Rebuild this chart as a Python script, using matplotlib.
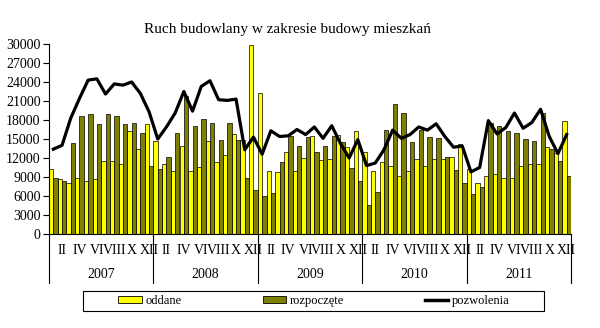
import matplotlib.pyplot as plt
import matplotlib.transforms as mtransforms
from matplotlib.patches import Patch, Rectangle
from matplotlib.lines import Line2D
import numpy as np

plt.rcParams['font.family'] = ['Liberation Serif', 'DejaVu Serif']

years = ['2007', '2008', '2009', '2010', '2011']
month_labels = ['II', 'IV', 'VI', 'VIII', 'X', 'XII']

# mieszkania oddane (2007-2011, miesięcznie)
oddane = [10200, 8700, 8000, 8900, 8400, 8700, 11600, 11600, 11100, 16200, 13500, 17300,
          14700, 11000, 9900, 13900, 9900, 10600, 14700, 11300, 12400, 15800, 14800, 29900,
          22300, 9900, 9800, 12900, 10000, 12000, 15500, 11700, 11800, 15700, 13700, 16200,
          12900, 9900, 11400, 10800, 9100, 10000, 11800, 10700, 11800, 11800, 12200, 14200,
          10200, 8000, 9200, 9500, 8800, 8800, 10700, 11000, 11000, 13700, 12800, 17800]
# mieszkania rozpoczęte
rozpoczete = [8900, 8300, 14300, 18700, 19000, 17300, 19000, 18700, 17400, 17600, 16000, 10700,
              10200, 12200, 16000, 21800, 17000, 18100, 17600, 14800, 17600, 14900, 8900, 6900,
              6000, 6400, 11400, 15500, 13900, 15300, 12900, 13900, 15500, 14500, 10400, 8400,
              4600, 6600, 16400, 20500, 19100, 14500, 16500, 15300, 15100, 12200, 10100, 8000,
              6300, 7500, 17500, 17000, 16300, 16000, 15000, 14700, 19100, 13400, 11600, 9200]
# pozwolenia na budowę
pozwolenia = [13400, 14000, 18300, 21400, 24300, 24500, 22100, 23700, 23500, 24000, 22200, 19300,
              15000, 16900, 19100, 22500, 19400, 23300, 24200, 21200, 21100, 21300, 13300, 15300,
              12600, 16300, 15400, 15500, 16500, 15700, 16900, 15100, 17100, 14300, 12000, 14900,
              10800, 11200, 13300, 16400, 15100, 15700, 16900, 16400, 17400, 15400, 13700, 13900,
              9800, 10500, 17900, 15800, 16800, 19100, 16700, 17600, 19700, 15400, 12700, 15700]

W, H = 600, 328
fig = plt.figure(figsize=(6, 3.28), dpi=100)
ax = fig.add_axes([49 / W, 1 - 234 / H, 522 / W, 190 / H])

x = np.arange(len(oddane))
ax.bar(x - 0.25, oddane, width=0.5, color='#FFFF00', edgecolor='black', linewidth=0.5, zorder=2)
ax.bar(x + 0.25, rozpoczete, width=0.5, color='#808000', edgecolor='black', linewidth=0.5, zorder=2)
ax.plot(x, pozwolenia, color='black', linewidth=2.3, zorder=3)

ax.set_xlim(-0.5, len(x) - 0.5)
ax.set_ylim(0, 30000)
ax.set_yticks(np.arange(0, 30001, 3000))
ax.tick_params(axis='y', labelsize=10, length=4, width=0.8, direction='out', pad=2)
ax.set_xticks([])
for s in ['top', 'right']:
    ax.spines[s].set_visible(False)
ax.spines['left'].set_linewidth(0.8)
ax.spines['bottom'].set_linewidth(0.8)

# osie kategorii: miesiące i lata
trans = mtransforms.blended_transform_factory(ax.transData, ax.transAxes)
for k in range(len(years) + 1):
    ax.plot([12 * k - 0.5, 12 * k - 0.5], [0, -(283 - 234) / 190], color='black', linewidth=0.8,
            transform=trans, clip_on=False)
for k, yr in enumerate(years):
    ax.text(12 * k + 5.5, -(274 - 234) / 190, yr, transform=trans, ha='center', va='center',
            fontsize=10)
    for j, m in enumerate(month_labels):
        ax.text(12 * k + 1 + 2 * j, -(251 - 234) / 190, m, transform=trans, ha='center',
                va='center', fontsize=10)

fig.text(287.5 / W, 1 - 30 / H, 'Ruch budowlany w zakresie budowy mieszkań', fontsize=11,
         ha='center', va='center')

handles = [Patch(facecolor='#FFFF00', edgecolor='black', linewidth=0.6),
           Patch(facecolor='#808000', edgecolor='black', linewidth=0.6),
           Line2D([0], [0], color='black', linewidth=2.5)]
leg = fig.legend(handles, ['oddane', 'rozpoczęte', 'pozwolenia'], ncol=3, loc='center',
                 bbox_to_anchor=(314 / W, 1 - 301 / H), fontsize=9, frameon=False,
                 handlelength=1.85, handleheight=0.45, handletextpad=0.3, columnspacing=6.5,
                 borderpad=0.0)
fig.add_artist(Rectangle((83 / W, 1 - 311 / H), 461 / W, 20 / H, transform=fig.transFigure,
                         facecolor='none', edgecolor='black', linewidth=0.8))

fig.savefig('out.png', dpi=100)
